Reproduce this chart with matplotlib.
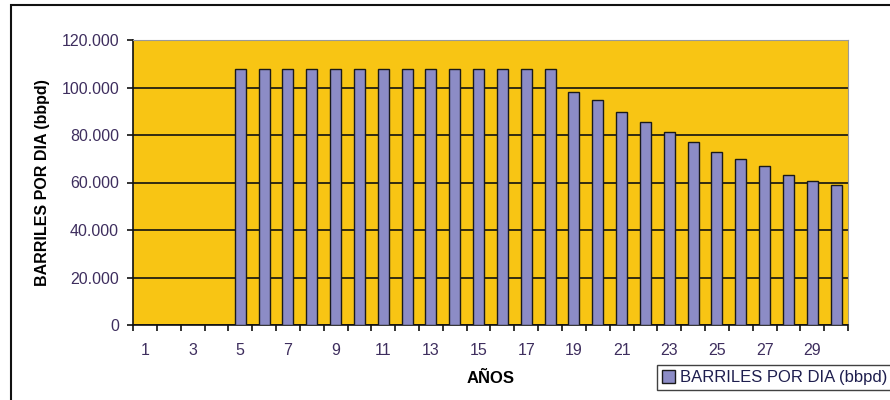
import matplotlib
matplotlib.use("Agg")
import matplotlib.pyplot as plt
from matplotlib.patches import Rectangle
from matplotlib.ticker import FuncFormatter, FixedLocator

plt.rcParams['font.family'] = ['Liberation Sans', 'DejaVu Sans']

years = list(range(1, 31))
barriles = [0, 0, 0, 0,
            108000, 108000, 108000, 108000, 108000, 108000, 108000,
            108000, 108000, 108000, 108000, 108000, 108000, 108000,
            98200, 94700, 89700, 85500, 81300, 77000, 72800,
            69800, 67000, 63300, 60800, 59000]
ytick_vals = [0, 20000, 40000, 60000, 80000, 100000, 120000]
xtick_labels = list(range(1, 30, 2))

fig = plt.figure(figsize=(8.9, 4.0), dpi=100)
ax = fig.add_axes([133/890, 75/400, 715/890, 285/400])
ax.set_facecolor('#F8C514')

ax.bar(years, barriles, width=0.46, color='#8C8CC6', edgecolor='#1a1a1a',
       linewidth=1.0, zorder=3, label='BARRILES POR DIA (bbpd)')

ax.set_xlim(0.5, 30.5)
ax.set_ylim(0, 120000)
ax.set_yticks(ytick_vals)
ax.yaxis.set_major_formatter(FuncFormatter(lambda v, p: f"{int(v):,}".replace(',', '.')))
ax.yaxis.grid(True, color='#111111', linewidth=1.2, zorder=1)

# tick marks at category borders, labels at category centers
ax.xaxis.set_major_locator(FixedLocator([i + 0.5 for i in range(0, 31)]))
ax.xaxis.set_major_formatter(FuncFormatter(lambda v, p: ''))
ax.xaxis.set_minor_locator(FixedLocator(xtick_labels))
ax.xaxis.set_minor_formatter(FuncFormatter(lambda v, p: str(int(v))))
ax.tick_params(axis='x', which='major', direction='out', length=4, width=1.2, color='#111111')
ax.tick_params(axis='x', which='minor', length=0, pad=13, labelsize=11.5, labelcolor='#3e2e5e')
ax.tick_params(axis='y', direction='out', length=4, width=1.2, color='#111111',
               labelsize=11.5, labelcolor='#3e2e5e', pad=6)

for s in ['top', 'right']:
    ax.spines[s].set_color('#9a9a9a')
for s in ['left', 'bottom']:
    ax.spines[s].set_color('#111111')
    ax.spines[s].set_linewidth(1.2)

ax.set_ylabel('BARRILES POR DIA (bbpd)', fontsize=11.5, fontweight='bold', labelpad=8)
ax.set_xlabel('AÑOS', fontsize=12, fontweight='bold', labelpad=9)

fig.legend(loc='upper left', bbox_to_anchor=(657/890, 1 - 365/400), frameon=True,
           fancybox=False, edgecolor='#111111', fontsize=12, handlelength=0.8,
           handleheight=0.8, handletextpad=0.25, borderpad=0.3, borderaxespad=0,
           labelcolor='#1e1e4e')

# outer chart frame
fig.patches.append(Rectangle((11/890, -0.1), 1.2, 1 - 5/400 + 0.1, transform=fig.transFigure,
                             fill=False, edgecolor='#111111', linewidth=1.5))

fig.savefig('out.png', dpi=100)
